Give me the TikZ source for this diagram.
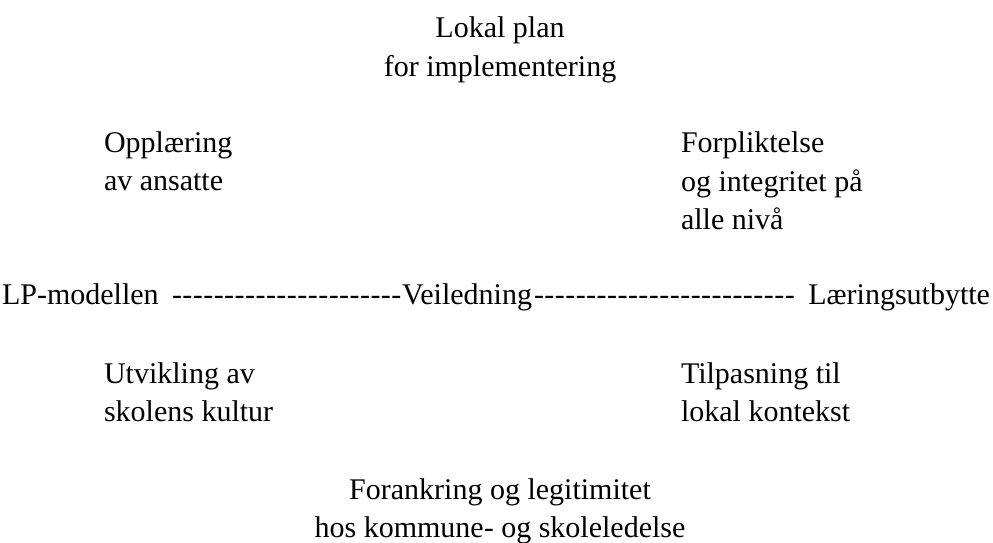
\documentclass[tikz,border=0pt]{standalone}
\usepackage{fontspec}
\setmainfont{Liberation Serif}
\newcommand\hy{-\kern0.46pt}
\begin{document}
\begin{tikzpicture}[x=1pt,y=1pt,
  txt/.style={inner sep=0pt, outer sep=0pt, font=\fontsize{30}{38.5}\selectfont}]
\useasboundingbox (0,0) rectangle (993,543);
% top and bottom (anchor = baseline of the last line)
\node[txt, align=center, anchor=base] (plan) at (500,466.5) {Lokal plan\\for implementering};
\node[txt, align=center, anchor=base] (forankring) at (500,5) {Forankring og legitimitet\\hos kommune- og skoleledelse};
% upper row
\node[txt, align=left, anchor=base west] (opplaering) at (104,352) {Opplæring\\av ansatte};
\node[txt, align=left, anchor=base west] (forpliktelse) at (681,313) {Forpliktelse\\og integritet på\\alle nivå};
% middle line
\node[txt, anchor=base west] (lp) at (2,238) {LP-modellen};
\node[txt, anchor=base west] (hyA) at (172,238) {\hy\hy\hy\hy\hy\hy\hy\hy\hy\hy\hy\hy\hy\hy\hy\hy\hy\hy\hy\hy\hy\hy};
\node[txt, anchor=base west] (veiledning) at (402,238) {Veiledning};
\node[txt, anchor=base west] (hyB) at (534,238) {\hy\hy\hy\hy\hy\hy\hy\hy\hy\hy\hy\hy\hy\hy\hy\hy\hy\hy\hy\hy\hy\hy\hy\hy\hy};
\node[txt, anchor=base east] (utbytte) at (990,238) {Læringsutbytte};
% lower row
\node[txt, align=left, anchor=base west] (utvikling) at (104,121) {Utvikling av\\skolens kultur};
\node[txt, align=left, anchor=base west] (tilpasning) at (681,121) {Tilpasning til\\lokal kontekst};
\end{tikzpicture}
\end{document}
